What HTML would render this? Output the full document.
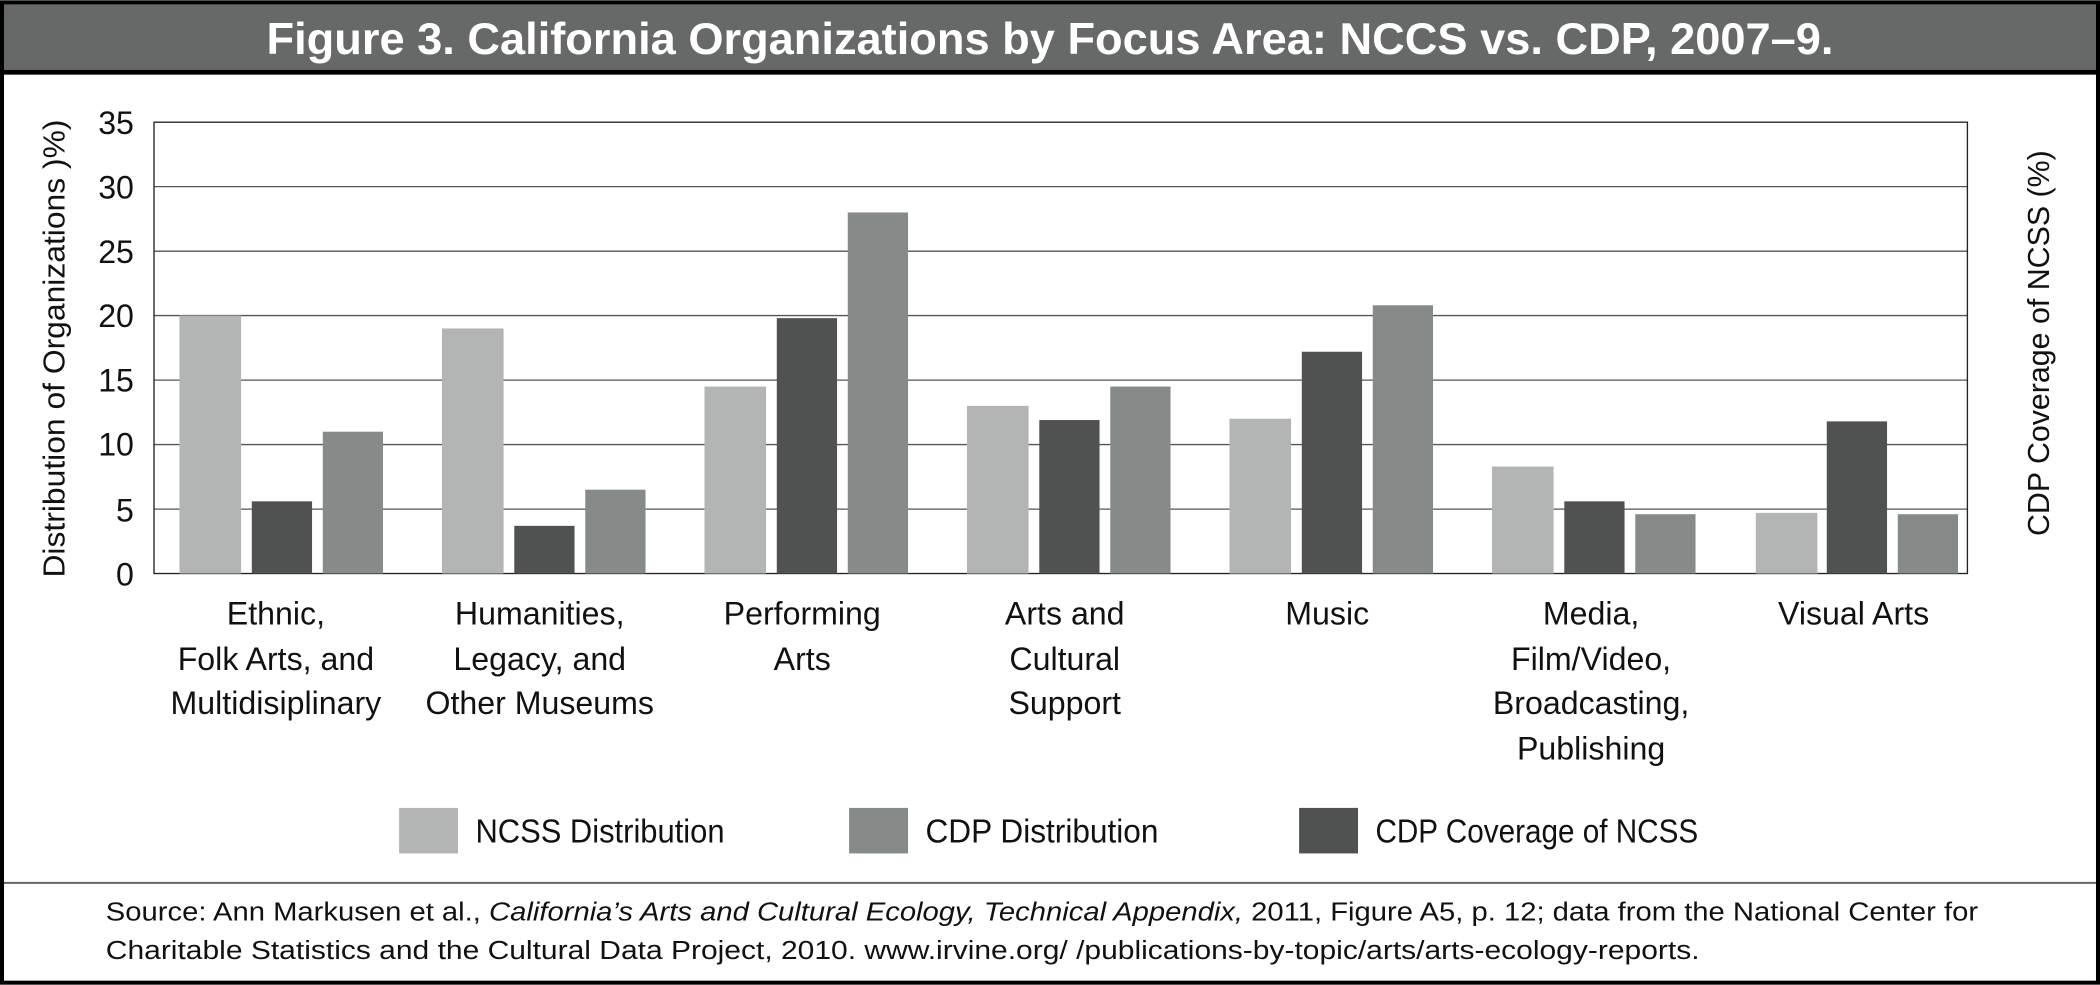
<!DOCTYPE html>
<html><head><meta charset="utf-8"><style>
html,body{margin:0;padding:0;background:#fff}
svg{display:block}
text{font-family:"Liberation Sans Narrow","Liberation Sans",sans-serif;fill:#111}
</style></head><body>
<svg width="2100" height="985" viewBox="0 0 1568 735" xmlns="http://www.w3.org/2000/svg">
<rect x="0" y="0" width="1568" height="735" fill="#000"/>
<rect x="3" y="3" width="1562" height="49" fill="#666968"/>
<rect x="3" y="55.5" width="1562" height="676.5" fill="#fff"/>
<text x="784" y="40" text-anchor="middle" font-size="33" font-weight="bold" style="fill:#fff" textLength="1170" lengthAdjust="spacingAndGlyphs">Figure 3. California Organizations by Focus Area: NCCS vs. CDP, 2007–9.</text>
<g stroke="#555" stroke-width="1">
<line x1="115" y1="139.1" x2="1469" y2="139.1"/>
<line x1="115" y1="187.3" x2="1469" y2="187.3"/>
<line x1="115" y1="235.4" x2="1469" y2="235.4"/>
<line x1="115" y1="283.6" x2="1469" y2="283.6"/>
<line x1="115" y1="331.7" x2="1469" y2="331.7"/>
<line x1="115" y1="379.9" x2="1469" y2="379.9"/>
</g>
<rect x="115" y="91" width="1354" height="337" fill="none" stroke="#222" stroke-width="1"/>
<g font-size="24" text-anchor="end">
<text x="100" y="100">35</text><text x="100" y="148">30</text><text x="100" y="196">25</text>
<text x="100" y="244">20</text><text x="100" y="292">15</text><text x="100" y="340">10</text>
<text x="100" y="389">5</text><text x="100" y="437">0</text>
</g>
<text transform="translate(48,260) rotate(-90)" text-anchor="middle" font-size="23" textLength="342" lengthAdjust="spacingAndGlyphs">Distribution of Organizations )%)</text>
<text transform="translate(1530,256) rotate(-90)" text-anchor="middle" font-size="23" textLength="288" lengthAdjust="spacingAndGlyphs">CDP Coverage of NCSS (%)</text>
<g>
<rect x="134" y="235.4" width="46" height="192.6" fill="#b3b5b4"/>
<rect x="188" y="374.1" width="45" height="53.9" fill="#505251"/>
<rect x="241" y="322.1" width="45" height="105.9" fill="#868a89"/>

<rect x="330" y="245" width="46" height="183" fill="#b3b5b4"/>
<rect x="384" y="392.4" width="45" height="35.6" fill="#505251"/>
<rect x="437" y="365.4" width="45" height="62.6" fill="#868a89"/>

<rect x="526" y="288.4" width="46" height="139.6" fill="#b3b5b4"/>
<rect x="580" y="237.3" width="45" height="190.7" fill="#505251"/>
<rect x="633" y="158.4" width="45" height="269.6" fill="#868a89"/>

<rect x="722" y="302.8" width="46" height="125.2" fill="#b3b5b4"/>
<rect x="776" y="313.4" width="45" height="114.6" fill="#505251"/>
<rect x="829" y="288.4" width="45" height="139.6" fill="#868a89"/>

<rect x="918" y="312.4" width="46" height="115.6" fill="#b3b5b4"/>
<rect x="972" y="262.4" width="45" height="165.6" fill="#505251"/>
<rect x="1025" y="227.7" width="45" height="200.3" fill="#868a89"/>

<rect x="1114" y="348.1" width="46" height="79.9" fill="#b3b5b4"/>
<rect x="1168" y="374.1" width="45" height="53.9" fill="#505251"/>
<rect x="1221" y="383.7" width="45" height="44.3" fill="#868a89"/>

<rect x="1311" y="382.7" width="46" height="45.3" fill="#b3b5b4"/>
<rect x="1364" y="314.4" width="45" height="113.6" fill="#505251"/>
<rect x="1417" y="383.7" width="45" height="44.3" fill="#868a89"/>
</g>
<g font-size="24" text-anchor="middle">
<text x="206" y="466">Ethnic,</text><text x="206" y="500">Folk Arts, and</text><text x="206" y="533">Multidisiplinary</text>
<text x="403" y="466">Humanities,</text><text x="403" y="500">Legacy, and</text><text x="403" y="533">Other Museums</text>
<text x="599" y="466">Performing</text><text x="599" y="500">Arts</text>
<text x="795" y="466">Arts and</text><text x="795" y="500">Cultural</text><text x="795" y="533">Support</text>
<text x="991" y="466">Music</text>
<text x="1188" y="466">Media,</text><text x="1188" y="500">Film/Video,</text><text x="1188" y="533">Broadcasting,</text><text x="1188" y="567">Publishing</text>
<text x="1384" y="466">Visual Arts</text>
</g>
<rect x="298" y="603" width="44" height="34" fill="#b3b5b4"/>
<text x="355" y="629" font-size="25" textLength="186" lengthAdjust="spacingAndGlyphs">NCSS Distribution</text>
<rect x="634" y="603" width="44" height="34" fill="#868a89"/>
<text x="691" y="629" font-size="25" textLength="174" lengthAdjust="spacingAndGlyphs">CDP Distribution</text>
<rect x="970" y="603" width="44" height="34" fill="#505251"/>
<text x="1027" y="629" font-size="25" textLength="241" lengthAdjust="spacingAndGlyphs">CDP Coverage of NCSS</text>
<line x1="3" y1="659" x2="1565" y2="659" stroke="#666" stroke-width="1.5"/>
<text x="79" y="687" font-size="19.5" textLength="1398" lengthAdjust="spacingAndGlyphs">Source: Ann Markusen et al., <tspan font-style="italic">California’s Arts and Cultural Ecology, Technical Appendix,</tspan> 2011, Figure A5, p. 12; data from the National Center for</text>
<text x="79" y="716" font-size="19.5" textLength="1190" lengthAdjust="spacingAndGlyphs">Charitable Statistics and the Cultural Data Project, 2010. www.irvine.org/ /publications-by-topic/arts/arts-ecology-reports.</text>
</svg>
</body></html>
